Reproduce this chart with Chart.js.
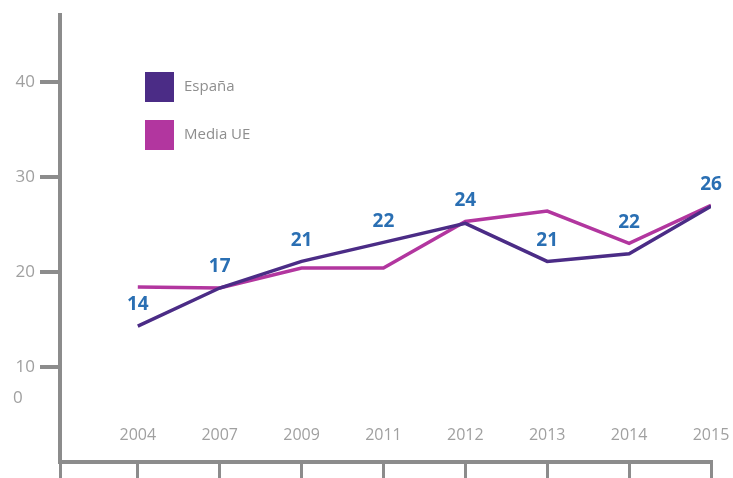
<!DOCTYPE html>
<html>
<head>
<meta charset="utf-8">
<title>España vs Media UE</title>
<script src="https://cdn.jsdelivr.net/npm/chart.js@4/dist/chart.umd.min.js"></script>
<style>
    html, body { margin: 0; padding: 0; background: #fff; }
    #wrap { width: 733px; height: 478px; }
</style>
</head>
<body>
<div id="wrap"><canvas id="chart" width="733" height="478"></canvas></div>
<script>
// Data
const years = ['2004', '2007', '2009', '2011', '2012', '2013', '2014', '2015'];
const espana = [14.3, 18.3, 21.1, 23.1, 25.1, 21.1, 21.9, 26.9];
const mediaUE = [18.4, 18.3, 20.4, 20.4, 25.3, 26.4, 23.0, 27.0];
const espanaLabels = ['14', '17', '21', '22', '24', '21', '22', '26'];
const yTicks = [10, 20, 30, 40];

const axisGrey = '#8c8c8c';
const tickGrey = '#a0a0a0';
const purple = '#4b2c86';
const magenta = '#b2369f';

// Legend drawn inside the plot, top left
const boxLegend = {
    id: 'boxLegend',
    afterDraw(chart) {
        const ctx = chart.ctx;
        ctx.save();
        chart.data.datasets.forEach((ds, i) => {
            const top = 72 + i * 48;
            ctx.fillStyle = ds.borderColor;
            ctx.fillRect(145, top, 29, 30);
            ctx.fillStyle = '#8e8e8e';
            ctx.font = '15px "Open Sans", sans-serif';
            ctx.textBaseline = 'middle';
            ctx.textAlign = 'left';
            ctx.fillText(ds.label, 184, top + 15);
        });
        ctx.restore();
    }
};

// Blue value labels over the España line
const valueLabels = {
    id: 'valueLabels',
    afterDatasetsDraw(chart) {
        const ctx = chart.ctx;
        const esp = chart.getDatasetMeta(0).data;
        const ue = chart.getDatasetMeta(1).data;
        ctx.save();
        ctx.fillStyle = '#2a6fb3';
        ctx.font = 'bold 19px "Open Sans", sans-serif';
        ctx.textAlign = 'center';
        ctx.textBaseline = 'middle';
        esp.forEach((pt, i) => {
            let anchor = pt.y;
            const d = pt.y - ue[i].y;
            if (d >= 0 && d < 15) anchor = ue[i].y;
            ctx.fillText(espanaLabels[i], pt.x, anchor - 21);
        });
        // the stray "0" label on the value axis
        const y = chart.scales.y;
        ctx.fillStyle = tickGrey;
        ctx.font = '17px "Open Sans", sans-serif';
        ctx.textAlign = 'left';
        ctx.fillText('0', 13, y.getPixelForValue(6.7));
        ctx.restore();
    }
};

new Chart(document.getElementById('chart'), {
    type: 'line',
    data: {
        datasets: [
            {
                label: 'España',
                data: espana.map((v, i) => ({ x: i, y: v })),
                borderColor: purple,
                backgroundColor: purple,
                borderWidth: 3.5,
                pointRadius: 0,
                tension: 0
            },
            {
                label: 'Media UE',
                data: mediaUE.map((v, i) => ({ x: i, y: v })),
                borderColor: magenta,
                backgroundColor: magenta,
                borderWidth: 3.5,
                pointRadius: 0,
                tension: 0
            }
        ]
    },
    options: {
        responsive: false,
        animation: false,
        layout: { padding: { top: 14, left: 12, right: 22, bottom: 0 } },
        plugins: {
            legend: { display: false },
            tooltip: { enabled: false }
        },
        scales: {
            x: {
                type: 'linear',
                min: -0.95,
                max: 7,
                afterBuildTicks: s => { s.ticks = [-0.95, 0, 1, 2, 3, 4, 5, 6, 7].map(v => ({ value: v })); },
                afterFit: s => { s.height = 16; s.paddingLeft = 0; s.paddingRight = 0; },
                border: { color: axisGrey, width: 4 },
                grid: { drawOnChartArea: false, color: axisGrey, lineWidth: 3, tickLength: 16 },
                ticks: {
                    mirror: true,
                    padding: 17,
                    maxRotation: 0,
                    color: tickGrey,
                    font: { family: '"Open Sans", sans-serif', size: 16 },
                    callback: v => years[v] !== undefined ? years[v] : ''
                }
            },
            y: {
                min: 0,
                max: 47,
                afterBuildTicks: s => { s.ticks = yTicks.map(v => ({ value: v })); },
                afterFit: s => { s.width = 48; },
                border: { color: axisGrey, width: 4 },
                grid: { drawOnChartArea: false, color: axisGrey, lineWidth: 4, tickLength: 20 },
                ticks: {
                    padding: 5,
                    color: tickGrey,
                    font: { family: '"Open Sans", sans-serif', size: 17 }
                }
            }
        }
    },
    plugins: [boxLegend, valueLabels]
});
</script>
</body>
</html>
